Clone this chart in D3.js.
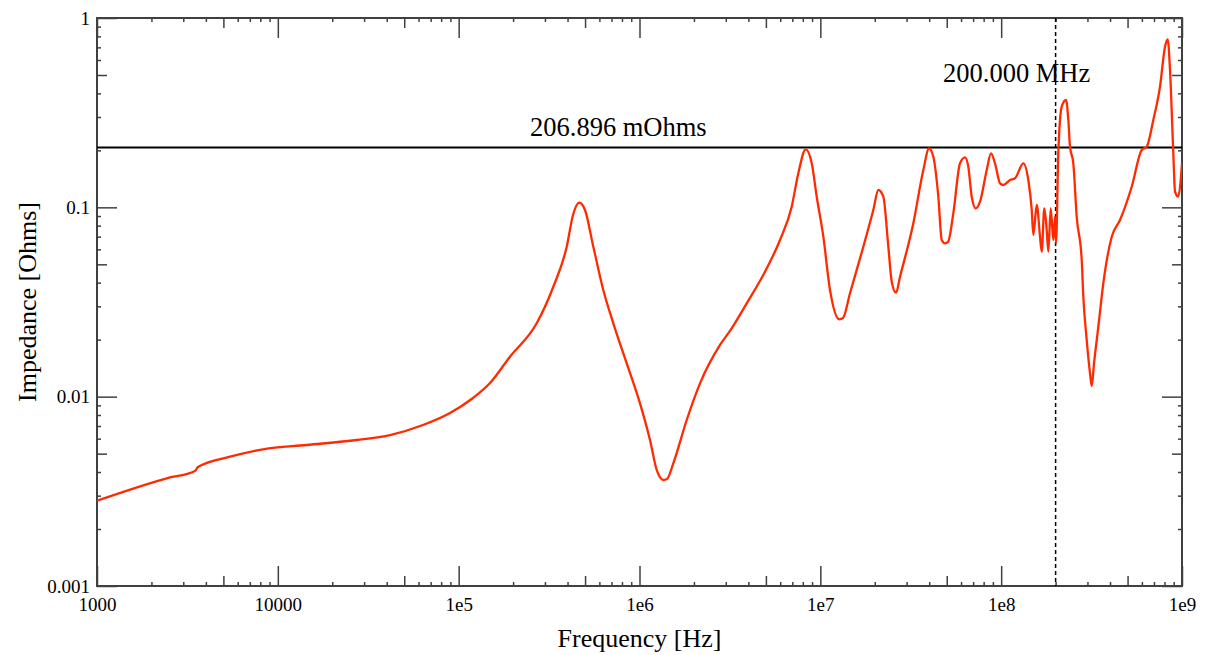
<!DOCTYPE html>
<html>
<head>
<meta charset="utf-8">
<script src="https://cdn.jsdelivr.net/npm/d3@7"></script>
<style>
  html, body { margin: 0; padding: 0; background: #fff; }
  svg { display: block; }
  text { font-family: "Liberation Serif", "Times New Roman", serif; fill: #000; }
</style>
</head>
<body>
<svg id="chart" width="1205" height="655"></svg>
<script>
// ---- Data ----
const frequencyHz = [
  1000, 2429, 3483, 3618, 5438, 8279, 14445, 27310, 41720, 63500,
  89590, 120000, 149100, 192200, 270100, 333800, 395900, 428900, 464700, 499500,
  555400, 630600, 716400, 849900, 1006500, 1143000, 1245000, 1354000, 1419000, 1538000,
  1824000, 2161000, 2788000, 3236000, 3916000, 4943000, 5984000, 6945000, 7555000, 8302000,
  8963000, 9550000, 10390000, 11310000, 12740000, 13350000, 14590000, 17290000, 19630000, 20930000,
  22300000, 23770000, 24820000, 26220000, 27590000, 32680000, 37120000, 39920000, 42150000, 44930000,
  46920000, 48930000, 50830000, 54380000, 59210000, 63110000, 65820000, 68720000, 72320000, 76390000,
  83210000, 87880000, 92470000, 98560000, 102800000, 111900000, 119300000, 132600000, 141300000, 147600000,
  150600000, 157300000, 164000000, 167600000, 173200000, 178600000, 182300000, 187900000, 194300000, 198500000,
  201100000, 207000000, 216200000, 228400000, 235200000, 240300000, 250600000, 261700000, 278900000, 284700000,
  297200000, 310000000, 316800000, 326200000, 344600000, 367200000, 408700000, 454200000, 527200000, 598700000,
  638000000, 694000000, 755800000, 805500000, 833700000, 858400000, 895300000, 914900000, 954100000, 983800000,
  1000000000
];
const impedanceOhms = [
  0.002822, 0.003706, 0.00405, 0.00425, 0.004818, 0.005272, 0.005555, 0.005904, 0.006273, 0.007086,
  0.0082, 0.00984, 0.01181, 0.01626, 0.02441, 0.03808, 0.06196, 0.0911, 0.1058, 0.0968,
  0.06196, 0.03659, 0.02441, 0.015, 0.009225, 0.005904, 0.0041, 0.003629, 0.003674, 0.004446,
  0.00753, 0.01176, 0.01875, 0.02297, 0.03112, 0.04571, 0.06722, 0.1008, 0.1513, 0.2025,
  0.1708, 0.1138, 0.06998, 0.03659, 0.02563, 0.02603, 0.03515, 0.06196, 0.0968, 0.1235,
  0.1138, 0.06196, 0.04048, 0.0354, 0.04301, 0.08234, 0.1575, 0.205, 0.1851, 0.1138,
  0.06722, 0.06457, 0.06561, 0.09299, 0.1708, 0.1838, 0.1639, 0.1138, 0.09883, 0.1071,
  0.1575, 0.1929, 0.1708, 0.1339, 0.1312, 0.1394, 0.1423, 0.1708, 0.1394, 0.0968,
  0.07144, 0.1029, 0.06998, 0.05829, 0.09883, 0.07593, 0.05829, 0.09883, 0.06722, 0.08921,
  0.06481, 0.1929, 0.34, 0.3688, 0.2892, 0.209, 0.1708, 0.08921, 0.05269, 0.03373,
  0.01992, 0.01328, 0.01138, 0.015, 0.02342, 0.0397, 0.06998, 0.08571, 0.1285, 0.2008,
  0.209, 0.2892, 0.4337, 0.7056, 0.7718, 0.5313, 0.1929, 0.121, 0.1138, 0.1394,
  0.1708
];
const xMajorTicks = [1e3, 1e4, 1e5, 1e6, 1e7, 1e8, 1e9];
const xTickLabels = ["1000", "10000", "1e5", "1e6", "1e7", "1e8", "1e9"];
const yMajorTicks = [0.001, 0.01, 0.1, 1];
const yTickLabels = ["0.001", "0.01", "0.1", "1"];
const thresholdOhms = 0.206896;
const thresholdLabel = "206.896 mOhms";
const markerHz = 200e6;
const markerLabel = "200.000 MHz";
const xTitle = "Frequency [Hz]";
const yTitle = "Impedance [Ohms]";

// ---- Layout ----
const L = 97, R = 1182, T = 18, B = 586;
const svg = d3.select("#chart");
const x = d3.scaleLog().domain([1e3, 1e9]).range([L, R]);
const y = d3.scaleLog().domain([0.001, 1]).range([B, T]);

function subTicks(majors, mults) {
  const out = [];
  for (let i = 0; i < majors.length - 1; i++) mults.forEach(m => out.push(majors[i] * m));
  return out;
}
const xFives = subTicks(xMajorTicks, [5]);
const xMinors = subTicks(xMajorTicks, [2, 3, 4, 6, 7, 8, 9]);
const yFives = subTicks(yMajorTicks, [5]);
const yMinors = subTicks(yMajorTicks, [2, 3, 4, 6, 7, 8, 9]);

const axisColor = "#404040";
function drawTicks(axisFn, scale, vals, len, transform) {
  const g = svg.append("g").attr("transform", transform)
    .call(axisFn(scale).tickValues(vals).tickSize(len).tickFormat(""));
  g.select(".domain").remove();
  g.selectAll("line").attr("stroke", axisColor).attr("stroke-width", 1.5);
}
[[xMajorTicks, 20], [xFives, 10], [xMinors, 4]].forEach(([v, len]) => {
  drawTicks(d3.axisBottom, x, v, -len, `translate(0,${B})`);
  drawTicks(d3.axisTop, x, v, -len, `translate(0,${T})`);
});
[[yMajorTicks, 20], [yFives, 10], [yMinors, 4]].forEach(([v, len]) => {
  drawTicks(d3.axisLeft, y, v, -len, `translate(${L},0)`);
  drawTicks(d3.axisRight, y, v, -len, `translate(${R},0)`);
});

// tick labels
const xl = svg.append("g").attr("transform", `translate(0,${B})`)
  .call(d3.axisBottom(x).tickValues(xMajorTicks).tickSize(0).tickPadding(12)
    .tickFormat((d, i) => xTickLabels[i]));
xl.select(".domain").remove();
xl.selectAll("text").style("font-size", "19px").style("font-family", "Liberation Serif").attr("fill", "#000");

const yl = svg.append("g").attr("transform", `translate(${L},0)`)
  .call(d3.axisLeft(y).tickValues(yMajorTicks).tickSize(0).tickPadding(7)
    .tickFormat((d, i) => yTickLabels[i]));
yl.select(".domain").remove();
yl.selectAll("text").style("font-size", "19px").style("font-family", "Liberation Serif").attr("fill", "#000");

// frame
svg.append("rect").attr("x", L).attr("y", T).attr("width", R - L).attr("height", B - T)
  .attr("fill", "none").attr("stroke", axisColor).attr("stroke-width", 2);

// threshold line
svg.append("line").attr("x1", L).attr("x2", R)
  .attr("y1", y(thresholdOhms)).attr("y2", y(thresholdOhms))
  .attr("stroke", "#000").attr("stroke-width", 2);
svg.append("text").attr("x", 530).attr("y", y(thresholdOhms) - 12)
  .style("font-size", "26.5px").text(thresholdLabel);

// marker line
svg.append("line").attr("x1", x(markerHz)).attr("x2", x(markerHz))
  .attr("y1", T).attr("y2", B)
  .attr("stroke", "#000").attr("stroke-width", 1.5).attr("stroke-dasharray", "4,3");
svg.append("text").attr("x", 943).attr("y", 82)
  .style("font-size", "26.5px").text(markerLabel);

// curve
svg.append("clipPath").attr("id", "clip").append("rect")
  .attr("x", L).attr("y", T).attr("width", R - L).attr("height", B - T);
const pts = frequencyHz.map((f, i) => [f, impedanceOhms[i]]);
svg.append("path").datum(pts)
  .attr("clip-path", "url(#clip)")
  .attr("fill", "none").attr("stroke", "#ff2a00").attr("stroke-width", 2.3)
  .attr("stroke-linejoin", "round")
  .attr("d", d3.line().curve(d3.curveMonotoneX).x(d => x(d[0])).y(d => y(d[1])));

// axis titles
svg.append("text").attr("x", (L + R) / 2).attr("y", 647).attr("text-anchor", "middle")
  .style("font-size", "26px").text(xTitle);
svg.append("text").attr("transform", `translate(36,${(T + B) / 2}) rotate(-90)`)
  .attr("text-anchor", "middle").style("font-size", "26px").text(yTitle);
</script>
</body>
</html>
